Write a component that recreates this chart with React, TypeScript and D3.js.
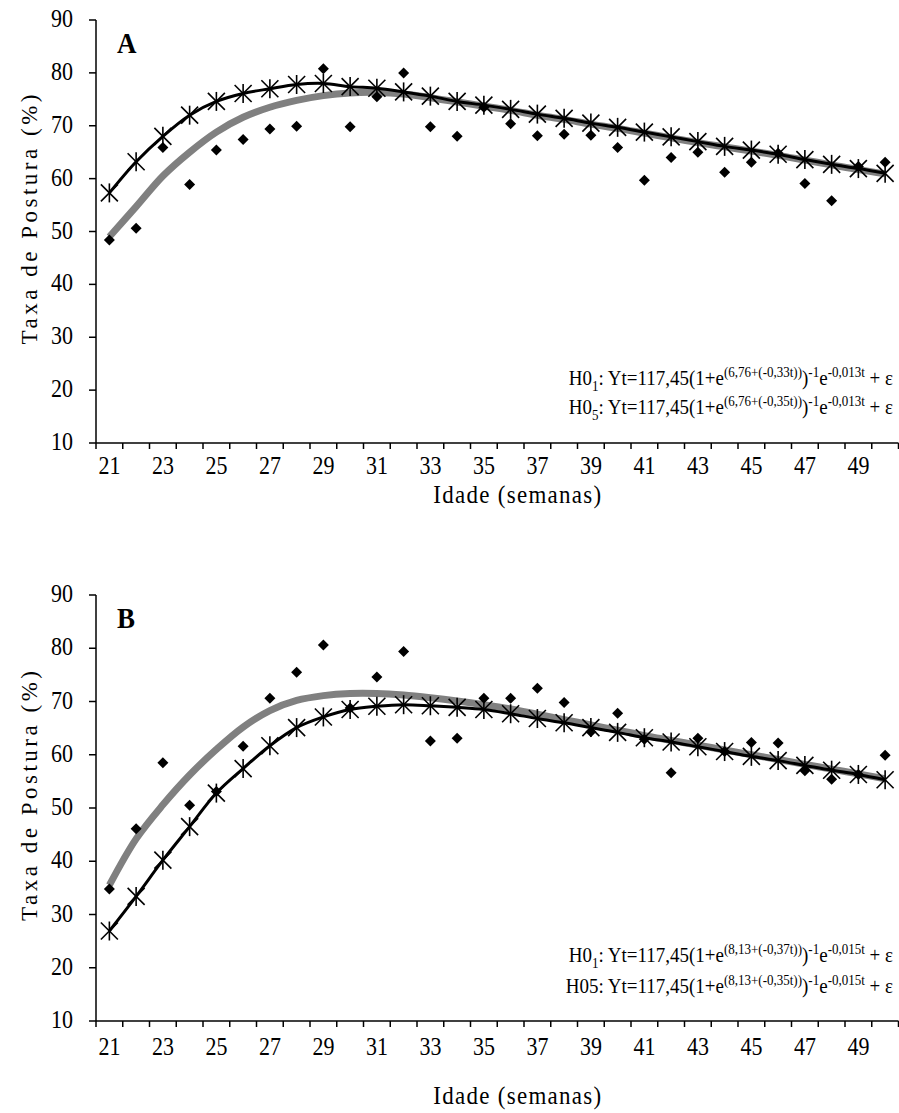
import React from 'react';
import * as d3 from 'd3';

const weeks = [21, 22, 23, 24, 25, 26, 27, 28, 29, 30, 31, 32, 33, 34, 35, 36, 37, 38, 39, 40, 41, 42, 43, 44, 45, 46, 47, 48, 49, 50];
const yTicks = [10, 20, 30, 40, 50, 60, 70, 80, 90];

// Panel A
const obsA = [48.4, 50.6, 65.9, 58.9, 65.4, 67.4, 69.4, 69.9, 80.8, 69.8, 75.5, 80.0, 69.8, 68.0, 73.5, 70.4, 68.1, 68.4, 68.2, 65.9, 59.7, 64.0, 65.0, 61.2, 63.1, 64.8, 59.1, 55.8, 62.3, 63.1];
const h01A = [57.3, 63.2, 68.0, 72.0, 74.6, 76.1, 77.0, 77.8, 78.0, 77.4, 77.1, 76.4, 75.6, 74.6, 73.9, 73.1, 72.2, 71.4, 70.5, 69.7, 68.8, 67.9, 67.0, 66.1, 65.4, 64.6, 63.6, 62.7, 61.9, 61.0];
const h05A = [49.0, 54.7, 60.5, 65.0, 68.8, 71.6, 73.5, 74.8, 75.7, 76.2, 76.3, 76.0, 75.3, 74.5, 73.7, 72.9, 72.0, 71.2, 70.3, 69.5, 68.6, 67.7, 66.8, 66.0, 65.2, 64.4, 63.5, 62.6, 61.7, 60.9];

// Panel B
const obsB = [34.8, 46.1, 58.5, 50.5, 53.1, 61.6, 70.6, 75.5, 80.6, 68.8, 74.6, 79.4, 62.6, 63.1, 70.6, 70.6, 72.5, 69.8, 64.3, 67.8, 62.9, 56.6, 63.1, 60.6, 62.3, 62.2, 57.0, 55.4, 56.3, 59.9];
const h01B = [26.9, 33.4, 40.2, 46.5, 52.8, 57.4, 61.7, 65.1, 67.1, 68.5, 69.1, 69.4, 69.2, 68.9, 68.5, 67.7, 66.8, 66.0, 65.1, 64.2, 63.2, 62.4, 61.5, 60.6, 59.7, 58.9, 58.0, 57.1, 56.3, 55.3];
const h05B = [35.5, 44.2, 50.6, 56.2, 61.0, 65.2, 68.3, 70.2, 71.1, 71.5, 71.5, 71.2, 70.7, 70.1, 69.4, 68.6, 67.6, 66.6, 65.6, 64.6, 63.6, 62.7, 61.8, 60.9, 60.0, 59.1, 58.2, 57.3, 56.4, 55.5];

const FONT = "'Liberation Serif', 'Times New Roman', serif";
const SY = 1.12; // vertical stretch of the reference's lettering

type Eq = { h: string; hsub: string | null; a: string; b: string; c: string };

const eqA: Eq[] = [
  { h: 'H0', hsub: '1', a: '(6,76+(-0,33t))', b: '-1', c: '-0,013t' },
  { h: 'H0', hsub: '5', a: '(6,76+(-0,35t))', b: '-1', c: '-0,013t' },
];
const eqB: Eq[] = [
  { h: 'H0', hsub: '1', a: '(8,13+(-0,37t))', b: '-1', c: '-0,015t' },
  { h: 'H05', hsub: null, a: '(8,13+(-0,35t))', b: '-1', c: '-0,015t' },
];

function Equation({ eq, x, y }: { eq: Eq; x: number; y: number }) {
  const sup = 7;
  const sub = 5;
  return (
    <g transform={`translate(${x},${y}) scale(1,${SY})`}>
      <text x={0} y={0} textAnchor="end" fontFamily={FONT} fontSize={19} fill="#000">
        <tspan>{eq.h}</tspan>
        {eq.hsub ? (
          <>
            <tspan dy={sub} fontSize={13}>{eq.hsub}</tspan>
            <tspan dy={-sub}>: Yt=117,45(1+e</tspan>
          </>
        ) : (
          <tspan>: Yt=117,45(1+e</tspan>
        )}
        <tspan dy={-sup} fontSize={13}>{eq.a}</tspan>
        <tspan dy={sup}>)</tspan>
        <tspan dy={-sup} fontSize={13}>{eq.b}</tspan>
        <tspan dy={sup}>e</tspan>
        <tspan dy={-sup} fontSize={13}>{eq.c}</tspan>
        <tspan dy={sup}>{' +\u00A0ε'}</tspan>
      </text>
    </g>
  );
}

function SText({ x, y, anchor, size, children, weight, len }: any) {
  return (
    <g transform={`translate(${x},${y}) scale(1,${SY})`}>
      <text x={0} y={0} textAnchor={anchor} fontFamily={FONT} fontSize={size} fontWeight={weight || 'normal'}
        {...(len ? { textLength: len, lengthAdjust: 'spacing' } : {})}>{children}</text>
    </g>
  );
}

function Panel({
  label, top, bottom, obs, h01, h05, eqs, eqY, labelY, titleY,
}: {
  label: string; top: number; bottom: number; obs: number[]; h01: number[]; h05: number[];
  eqs: Eq[]; eqY: number[]; labelY: number; titleY: number;
}) {
  const left = 96;
  const right = 898.5;
  const x = d3.scaleBand<number>().domain(weeks).range([left, right]).paddingInner(0).paddingOuter(0);
  const bw = x.bandwidth();
  const cx = (w: number) => (x(w) as number) + bw / 2;
  const y = d3.scaleLinear().domain([10, 90]).range([bottom, top]);
  const line = d3.line<number>().x((_, i) => cx(weeks[i])).y((d) => y(d)).curve(d3.curveCatmullRom.alpha(0.5));
  const boundaries = weeks.map((w) => x(w) as number).concat([right]);
  const labelWeeks = weeks.filter((w) => (w - 21) % 2 === 0);
  const diamond = 5.5;
  const st = 8.5;

  return (
    <g>
      {/* axes */}
      <line x1={left} x2={left} y1={top} y2={bottom} stroke="#000" strokeWidth={1.5} />
      <line x1={left} x2={right} y1={bottom} y2={bottom} stroke="#000" strokeWidth={1.5} />
      {yTicks.map((t) => (
        <g key={'yt' + t}>
          <line x1={left - 7} x2={left} y1={y(t)} y2={y(t)} stroke="#000" strokeWidth={1.5} />
          <SText x={left - 23} y={y(t) + 7} anchor="end" size={22}>{t}</SText>
        </g>
      ))}
      {boundaries.map((b, i) => (
        <line key={'xt' + i} x1={b} x2={b} y1={bottom} y2={bottom + 6} stroke="#000" strokeWidth={1.5} />
      ))}
      {labelWeeks.map((w) => (
        <SText key={'xl' + w} x={cx(w)} y={labelY} anchor="middle" size={22}>{w}</SText>
      ))}
      <text
        transform={`translate(29,${(top + bottom) / 2 - 12}) rotate(-90)`}
        textAnchor="middle" dy="0.35em" fontFamily={FONT} fontSize={23}
        textLength={250} lengthAdjust="spacing"
      >Taxa de Postura (%)</text>
      <SText x={(left + right) / 2 + 20} y={titleY} anchor="middle" size={23} len={168}>Idade (semanas)</SText>
      <SText x={117} y={top + 33} anchor="start" size={27} weight="bold">{label}</SText>

      {/* fitted curves */}
      <path d={line(h05) || ''} fill="none" stroke="#808080" strokeWidth={7} />
      <path d={line(h01) || ''} fill="none" stroke="#000" strokeWidth={3} />
      {h01.map((v, i) => {
        const px = cx(weeks[i]);
        const py = y(v);
        return (
          <g key={'st' + i} stroke="#000" strokeWidth={1.6}>
            <line x1={px - st} y1={py - st} x2={px + st} y2={py + st} />
            <line x1={px - st} y1={py + st} x2={px + st} y2={py - st} />
            <line x1={px} y1={py - st - 1} x2={px} y2={py + st + 1} />
          </g>
        );
      })}
      {obs.map((v, i) => {
        const px = cx(weeks[i]);
        const py = y(v);
        return (
          <path key={'ob' + i}
            d={`M${px},${py - diamond}L${px + diamond},${py}L${px},${py + diamond}L${px - diamond},${py}Z`}
            fill="#000" />
        );
      })}
      {eqs.map((e, i) => (
        <Equation key={'eq' + i} eq={e} x={893} y={eqY[i]} />
      ))}
    </g>
  );
}

export default function App() {
  return (
    <svg width={899} height={1113} style={{ position: 'absolute', left: 0, top: 0, background: '#fff' }}>
      <rect x={0} y={0} width={899} height={1113} fill="#fff" />
      <Panel label="A" top={20} bottom={443} obs={obsA} h01={h01A} h05={h05A} eqs={eqA} eqY={[385, 414]}
        labelY={474} titleY={503} />
      <Panel label="B" top={595} bottom={1021} obs={obsB} h01={h01B} h05={h05B} eqs={eqB} eqY={[962, 993]}
        labelY={1055} titleY={1104} />
    </svg>
  );
}
